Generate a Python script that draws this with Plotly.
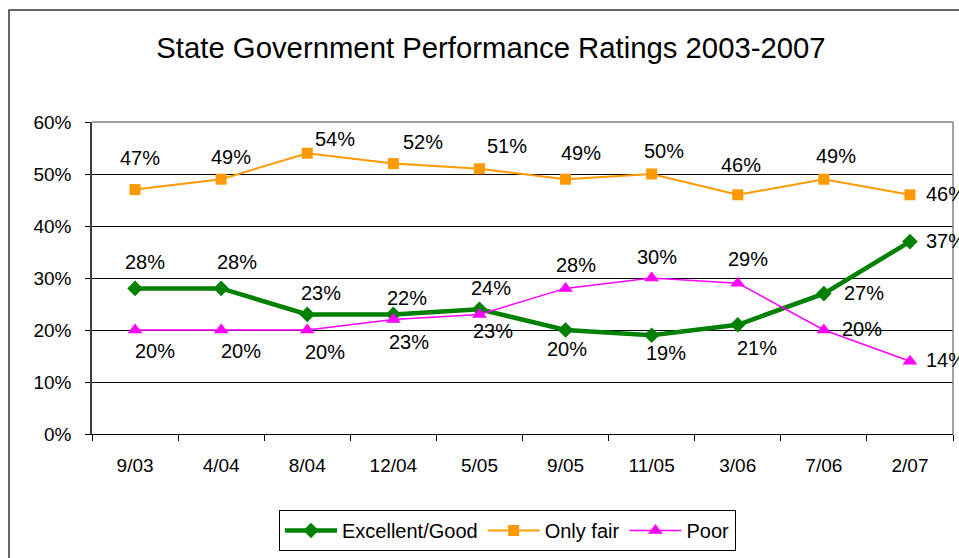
import plotly.graph_objects as go

categories = ["9/03", "4/04", "8/04", "12/04", "5/05", "9/05", "11/05", "3/06", "7/06", "2/07"]
excellent = [28, 28, 23, 23, 24, 20, 19, 21, 27, 37]
only_fair = [47, 49, 54, 52, 51, 49, 50, 46, 49, 46]
poor = [20, 20, 20, 22, 23, 28, 30, 29, 20, 14]

excellent_labels = ["28%", "28%", "23%", "22%", "24%", "20%", "19%", "21%", "27%", "37%"]
fair_labels = ["47%", "49%", "54%", "52%", "51%", "49%", "50%", "46%", "49%", "46%"]
poor_labels = ["20%", "20%", "20%", "23%", "23%", "28%", "30%", "29%", "20%", "14%"]

y_ticks = [0, 10, 20, 30, 40, 50, 60]
y_tick_labels = ["0%", "10%", "20%", "30%", "40%", "50%", "60%"]

# label placement offsets (pixels, relative to the point; +y = up)
exc_dx = [10, 16, 14, 14, 12, 1, 14, 19, 40, 36]
exc_dy = [26, 26, 21, 16, 21, -19, -18, -23, 1, 1]
fair_dx = [5, 10, 28, 30, 28, 15, 12, 3, 12, 36]
fair_dy = [32, 22, 14, 22, 23, 26, 23, 30, 23, 1]
poor_dx = [20, 20, 18, 16, 14, 10, 5, 10, 38, 36]
poor_dy = [-21, -21, -22, -22, -17, 23, 21, 24, 1, 1]

FONT = "Liberation Sans, Arial, sans-serif"

fig = go.Figure()
fig.add_trace(go.Scatter(
    x=categories, y=excellent, name="Excellent/Good", mode="lines+markers",
    line=dict(color="#008000", width=4.5),
    marker=dict(symbol="diamond", size=12, color="#008000"),
))
fig.add_trace(go.Scatter(
    x=categories, y=only_fair, name="Only fair", mode="lines+markers",
    line=dict(color="#FF9900", width=2),
    marker=dict(symbol="square", size=11, color="#FF9900"),
))
fig.add_trace(go.Scatter(
    x=categories, y=poor, name="Poor", mode="lines+markers",
    line=dict(color="#FF00FF", width=1.5),
    marker=dict(symbol="triangle-up", size=13, color="#FF00FF"),
))

annotations = []
for vals, labs, dxs, dys in [
    (excellent, excellent_labels, exc_dx, exc_dy),
    (only_fair, fair_labels, fair_dx, fair_dy),
    (poor, poor_labels, poor_dx, poor_dy),
]:
    for c, v, t, dx, dy in zip(categories, vals, labs, dxs, dys):
        annotations.append(dict(
            x=c, y=v, xref="x", yref="y", text=t, showarrow=False,
            xanchor="center", yanchor="middle", xshift=dx, yshift=dy,
            font=dict(family=FONT, size=20, color="black"),
        ))

W, H = 959, 558
L, R = 92, 6
T, B = 122, 558 - 434
pw, ph = W - L - R, H - T - B

shapes = [
    # outer chart frame
    dict(type="rect", xref="paper", yref="paper",
         x0=(9 - L) / pw, x1=1.3, y0=-0.8, y1=1 + (T - 10) / ph,
         line=dict(color="#333333", width=1.5), fillcolor="rgba(0,0,0,0)", layer="below"),
    # plot area top and right borders
    dict(type="line", xref="paper", yref="paper", x0=0, x1=1, y0=1, y1=1,
         line=dict(color="#808080", width=1.5), layer="above"),
    dict(type="line", xref="paper", yref="paper", x0=1, x1=1, y0=0, y1=1,
         line=dict(color="#808080", width=1.5), layer="above"),
]

fig.update_layout(
    width=W, height=H,
    margin=dict(l=L, r=R, t=T, b=B),
    paper_bgcolor="white", plot_bgcolor="white",
    font=dict(family=FONT, color="black"),
    title=dict(text="State Government Performance Ratings 2003-2007",
               x=491 / W, xanchor="center", y=1 - 48 / H, yanchor="middle",
               yref="container", font=dict(family=FONT, size=29.3, color="black")),
    showlegend=True,
    legend=dict(orientation="h", x=(507.5 - L) / pw, xanchor="center",
                y=-(510 - 434) / ph, yanchor="top",
                bordercolor="black", borderwidth=1, bgcolor="white",
                font=dict(family=FONT, size=20, color="black"),
                itemwidth=52, tracegroupgap=0),
    annotations=annotations,
    shapes=shapes,
    xaxis=dict(type="category", showgrid=False, showline=True, linecolor="black",
               linewidth=1, ticks="outside", ticklen=6, tickcolor="black",
               tickson="boundaries", tickfont=dict(family=FONT, size=19, color="black"),
               ticklabelstandoff=14, range=[-0.5, len(categories) - 0.5], fixedrange=True),
    yaxis=dict(range=[0, 60], tickmode="array", tickvals=y_ticks, ticktext=y_tick_labels,
               showgrid=True, gridcolor="black", gridwidth=1, showline=True,
               linecolor="#404040", linewidth=1.5, ticks="outside", ticklen=5,
               tickcolor="black", tickfont=dict(family=FONT, size=19, color="black"),
               ticklabelstandoff=10, zeroline=False, fixedrange=True),
)

fig.write_html(
    "out.html",
    config={"displayModeBar": False},
    post_script="document.body.style.margin='0';document.body.style.overflow='hidden';",
)
